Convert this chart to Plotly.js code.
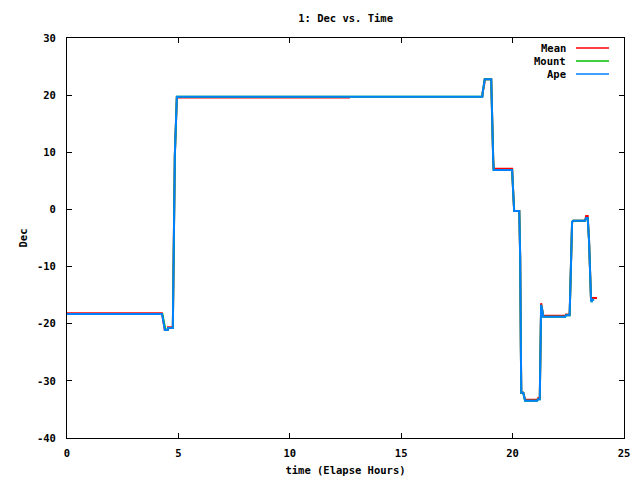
<!DOCTYPE html>
<html>
<head>
<meta charset="utf-8">
<script src="https://cdn.plot.ly/plotly-3.0.1.min.js"></script>
<style>html,body{margin:0;padding:0;background:#fff;}#chart{width:640px;height:480px;}</style>
</head>
<body>
<div id="chart"></div>
<script>
// Data (hours, degrees)
var apeX  = [0, 4.26, 4.30, 4.35, 4.39, 4.52, 4.53, 4.75, 4.79, 4.84, 4.93, 18.64, 18.66, 18.73, 18.75, 19.04, 19.06, 19.09, 19.13, 19.15, 19.98, 20.00, 20.03, 20.07, 20.30, 20.34, 20.37, 20.39, 20.48, 20.52, 20.56, 21.10, 21.15, 21.22, 21.24, 21.28, 21.33, 21.37, 22.36, 22.40, 22.56, 22.58, 22.63, 22.67, 22.72, 23.25, 23.30, 23.37, 23.43, 23.48, 23.52, 23.55, 23.58, 23.66];
var apeY  = [-18.3, -18.3, -19.0, -20.5, -21.1, -21.1, -20.75, -20.75, -10.25, 9.5, 19.7, 19.7, 20.55, 21.95, 22.8, 22.8, 18.8, 10.75, 8.65, 6.9, 6.9, 5.15, 1.65, -0.28, -0.28, -8.33, -24.1, -32.1, -32.1, -32.65, -33.5, -33.5, -33.2, -33.2, -24.95, -16.7, -17.6, -18.8, -18.8, -18.5, -18.5, -14.6, -6.75, -2.2, -2.0, -2.0, -1.5, -1.5, -5.35, -12.35, -15.85, -16.2, -15.8, -15.8];

var meanX = [0, 4.26, 4.30, 4.35, 4.39, 4.52, 4.53, 4.75, 4.79, 4.84, 4.93, 12.70, null, 18.64, 18.66, 18.73, 18.75, 19.04, 19.06, 19.09, 19.13, 19.15, 19.98, 20.00, 20.03, 20.07, 20.30, 20.34, 20.37, 20.39, 20.48, 20.52, 20.56, 21.10, 21.15, 21.22, 21.24, 21.28, 21.33, 21.37, 22.36, 22.40, 22.56, 22.58, 22.63, 22.67, 22.72, 23.25, 23.30, 23.37, 23.43, 23.48, 23.52, 23.57, 23.79];
var meanY = [-18.15, -18.15, -19.0, -20.5, -21.1, -21.1, -20.6, -20.6, -10.25, 9.5, 19.58, 19.58, null, 19.7, 20.55, 21.95, 22.8, 22.8, 18.8, 10.75, 8.65, 7.1, 7.1, 5.15, 1.65, -0.28, -0.28, -8.33, -24.1, -32.1, -32.1, -32.65, -33.3, -33.3, -33.0, -33.0, -24.95, -16.4, -17.6, -18.6, -18.6, -18.4, -18.4, -14.6, -6.75, -2.2, -2.0, -2.0, -1.15, -1.15, -5.35, -12.35, -15.85, -15.5, -15.5];

var mountX = [0, 4.28, 4.33, 4.38, 4.42, 4.52, 4.53, 4.75, 4.79, 4.84, 4.93, 18.64, 18.66, 18.73, 18.75, 19.04, 19.06, 19.09, 19.13, 19.15, 19.98, 20.00, 20.03, 20.07, 20.30, 20.34, 20.37, 20.39, 20.48, 20.52, 20.56, 21.10, 21.15, 21.22, 21.24, 21.28, 21.33, 21.37, 22.36, 22.40, 22.56, 22.58, 22.63, 22.67, 22.72, 23.25, 23.30, 23.37, 23.43, 23.48, 23.52, 23.55, 23.58, 23.66];
var mountY = [-18.3, -18.3, -19.3, -20.8, -21.1, -21.1, -20.75, -20.75, -10.25, 9.5, 19.7, 19.7, 20.55, 21.95, 22.8, 22.8, 18.8, 10.75, 8.65, 6.9, 6.9, 5.15, 1.65, -0.28, -0.28, -8.33, -24.1, -32.1, -32.1, -32.65, -33.5, -33.5, -33.2, -33.2, -24.95, -16.7, -17.6, -18.8, -18.8, -18.5, -18.5, -14.6, -6.75, -2.2, -2.0, -2.0, -1.5, -1.5, -5.35, -12.35, -15.85, -16.2, -15.8, -15.8];

var seriesNames = ["Mean", "Mount", "Ape"];
var seriesColors = ["#ff0000", "#00c000", "#0080ff"];
var xTicks = [0, 5, 10, 15, 20, 25];
var yTicks = [-40, -30, -20, -10, 0, 10, 20, 30];

var FONT = "DejaVu Sans Mono, Liberation Mono, monospace";
var traces = [
  {x: meanX, y: meanY, name: seriesNames[0], mode: "lines", line: {color: seriesColors[0], width: 2}, connectgaps: false},
  {x: mountX, y: mountY, name: seriesNames[1], mode: "lines", line: {color: seriesColors[1], width: 2}},
  {x: apeX, y: apeY, name: seriesNames[2], mode: "lines", line: {color: seriesColors[2], width: 2}}
];

var legendRows = [0.975, 0.9425, 0.91];
var annotations = [], shapes = [];
for (var i = 0; i < seriesNames.length; i++) {
  annotations.push({xref: "paper", yref: "paper", x: 0.8995, y: legendRows[i], xanchor: "right", yanchor: "middle",
    text: "<b>" + seriesNames[i] + "</b>", showarrow: false, font: {family: FONT, size: 10.5, color: "#000"}});
  shapes.push({type: "line", xref: "paper", yref: "paper", x0: 0.9138, x1: 0.973, y0: legendRows[i], y1: legendRows[i],
    line: {color: seriesColors[i], width: 1.5}});
}

var layout = {
  width: 640, height: 480,
  margin: {l: 67, r: 16, t: 38, b: 42},
  paper_bgcolor: "#fff", plot_bgcolor: "#fff",
  showlegend: false,
  font: {family: FONT, size: 10.5, color: "#000"},
  title: {text: "<b>1: Dec vs. Time</b>", x: 0.54, xanchor: "center", y: 0.9625, yanchor: "middle", yref: "container",
    font: {family: FONT, size: 10.5, color: "#000"}},
  xaxis: {range: [0, 25], tickvals: xTicks, ticktext: xTicks.map(function(v){return "<b>"+v+"</b>";}),
    ticks: "inside", ticklen: 5, tickcolor: "#000", showline: true, linecolor: "#000", linewidth: 1, mirror: "allticks",
    showgrid: false, zeroline: false, ticklabelstandoff: 5,
    title: {text: "<b>time (Elapse Hours)</b>", standoff: 9, font: {family: FONT, size: 10.5}}},
  yaxis: {range: [-40, 30], tickvals: yTicks, ticktext: yTicks.map(function(v){return "<b>"+v+"</b>";}),
    ticks: "inside", ticklen: 5, tickcolor: "#000", showline: true, linecolor: "#000", linewidth: 1, mirror: "allticks",
    showgrid: false, zeroline: false, ticklabelstandoff: 8,
    title: {text: "<b>Dec</b>", standoff: 7, font: {family: FONT, size: 10.5}}},
  annotations: annotations,
  shapes: shapes
};

Plotly.newPlot("chart", traces, layout, {displayModeBar: false, staticPlot: true});
</script>
</body>
</html>
